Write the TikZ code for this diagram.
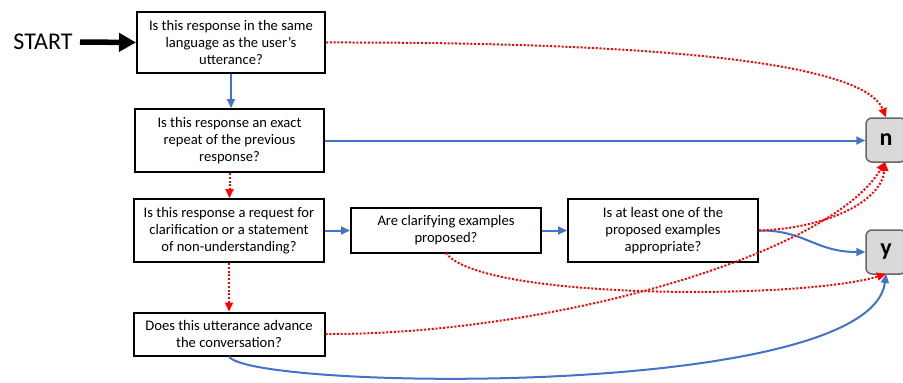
\documentclass[tikz,border=0pt]{standalone}
\usepackage{fontspec}
\setmainfont{Carlito}
\usetikzlibrary{arrows.meta}
\definecolor{cblue}{RGB}{68,114,196}
\definecolor{nodegray}{RGB}{217,217,217}
\begin{document}
\begin{tikzpicture}[x=1pt,y=-1pt,
  qbox/.style={draw=black,line width=2pt,fill=white,align=center,inner sep=0pt,
    font=\fontsize{14.6}{17.2}\selectfont},
  endbox/.style={draw=black!60,line width=1.5pt,fill=nodegray,rounded corners=6pt,
    minimum width=40pt,minimum height=44pt,inner sep=0pt,font=\fontsize{24}{26}\selectfont\bfseries},
  yes/.style={draw=cblue,line width=2pt,-{Triangle[length=9pt,width=8pt]}},
  no/.style={draw=red,line width=2pt,dash pattern=on 2pt off 1.8pt,-{Triangle[length=9pt,width=8pt]}}]
\useasboundingbox (0,0) rectangle (903,383);
\node[font=\fontsize{24}{26}\selectfont] (start) at (43,42) {START};
\node[qbox,minimum width=188pt,minimum height=61pt] (q1) at (231,42.5) {Is this response in the same\\language as the user’s\\utterance?};
\node[qbox,minimum width=189pt,minimum height=63pt] (q2) at (229.5,140.5) {Is this response an exact\\repeat of the previous\\response?};
\node[qbox,minimum width=190pt,minimum height=63pt] (q3) at (229,230.5) {Is this response a request for\\clarification or a statement\\of non-understanding?};
\node[qbox,minimum width=190pt,minimum height=45pt] (q4) at (446,230.5) {Are clarifying examples\\proposed?};
\node[qbox,minimum width=190pt,minimum height=63pt] (q5) at (663,230.5) {Is at least one of the\\proposed examples\\appropriate?};
\node[qbox,minimum width=191pt,minimum height=43pt] (q6) at (229,334) {Does this utterance advance\\the conversation?};
\node[endbox] (n) at (886,140) {n};
\node[endbox] (y) at (886,252) {y};
\coordinate (n-s) at (885,162);
\coordinate (y-s) at (886,274);
\coordinate (q4-s) at (446,253);
% start arrow
\draw[line width=5.5pt,-{Triangle[length=17pt,width=18pt]}] (80,42) -- (q1.west);
% yes connectors
\draw[yes] (q1.south) -- (q1.south |- q2.north);
\draw[yes] (q2.east) -- (n.west |- q2.east);
\draw[yes] (q3.east) -- (q4.west);
\draw[yes] (q4.east) -- (q5.west);
\draw[yes] (q5.east) .. controls (805,230) and (815,252) .. (y.west);
\draw[yes] (q6.south) .. controls (250,390) and (870,400) .. (y-s);
% no connectors
\draw[no] (q1.east) .. controls (620,42) and (862,58) .. (n.north);
\draw[no] (q2.south) -- (q2.south |- q3.north);
\draw[no] (q3.south) -- (q3.south |- q6.north);
\draw[no] (q5.east) .. controls (830,228) and (882,200) .. (n-s);
\draw[no] (q6.east) .. controls (550,335) and (830,255) .. (n-s);
\draw[no] (q4-s) .. controls (480,300) and (800,300) .. (y-s);
\end{tikzpicture}
\end{document}
